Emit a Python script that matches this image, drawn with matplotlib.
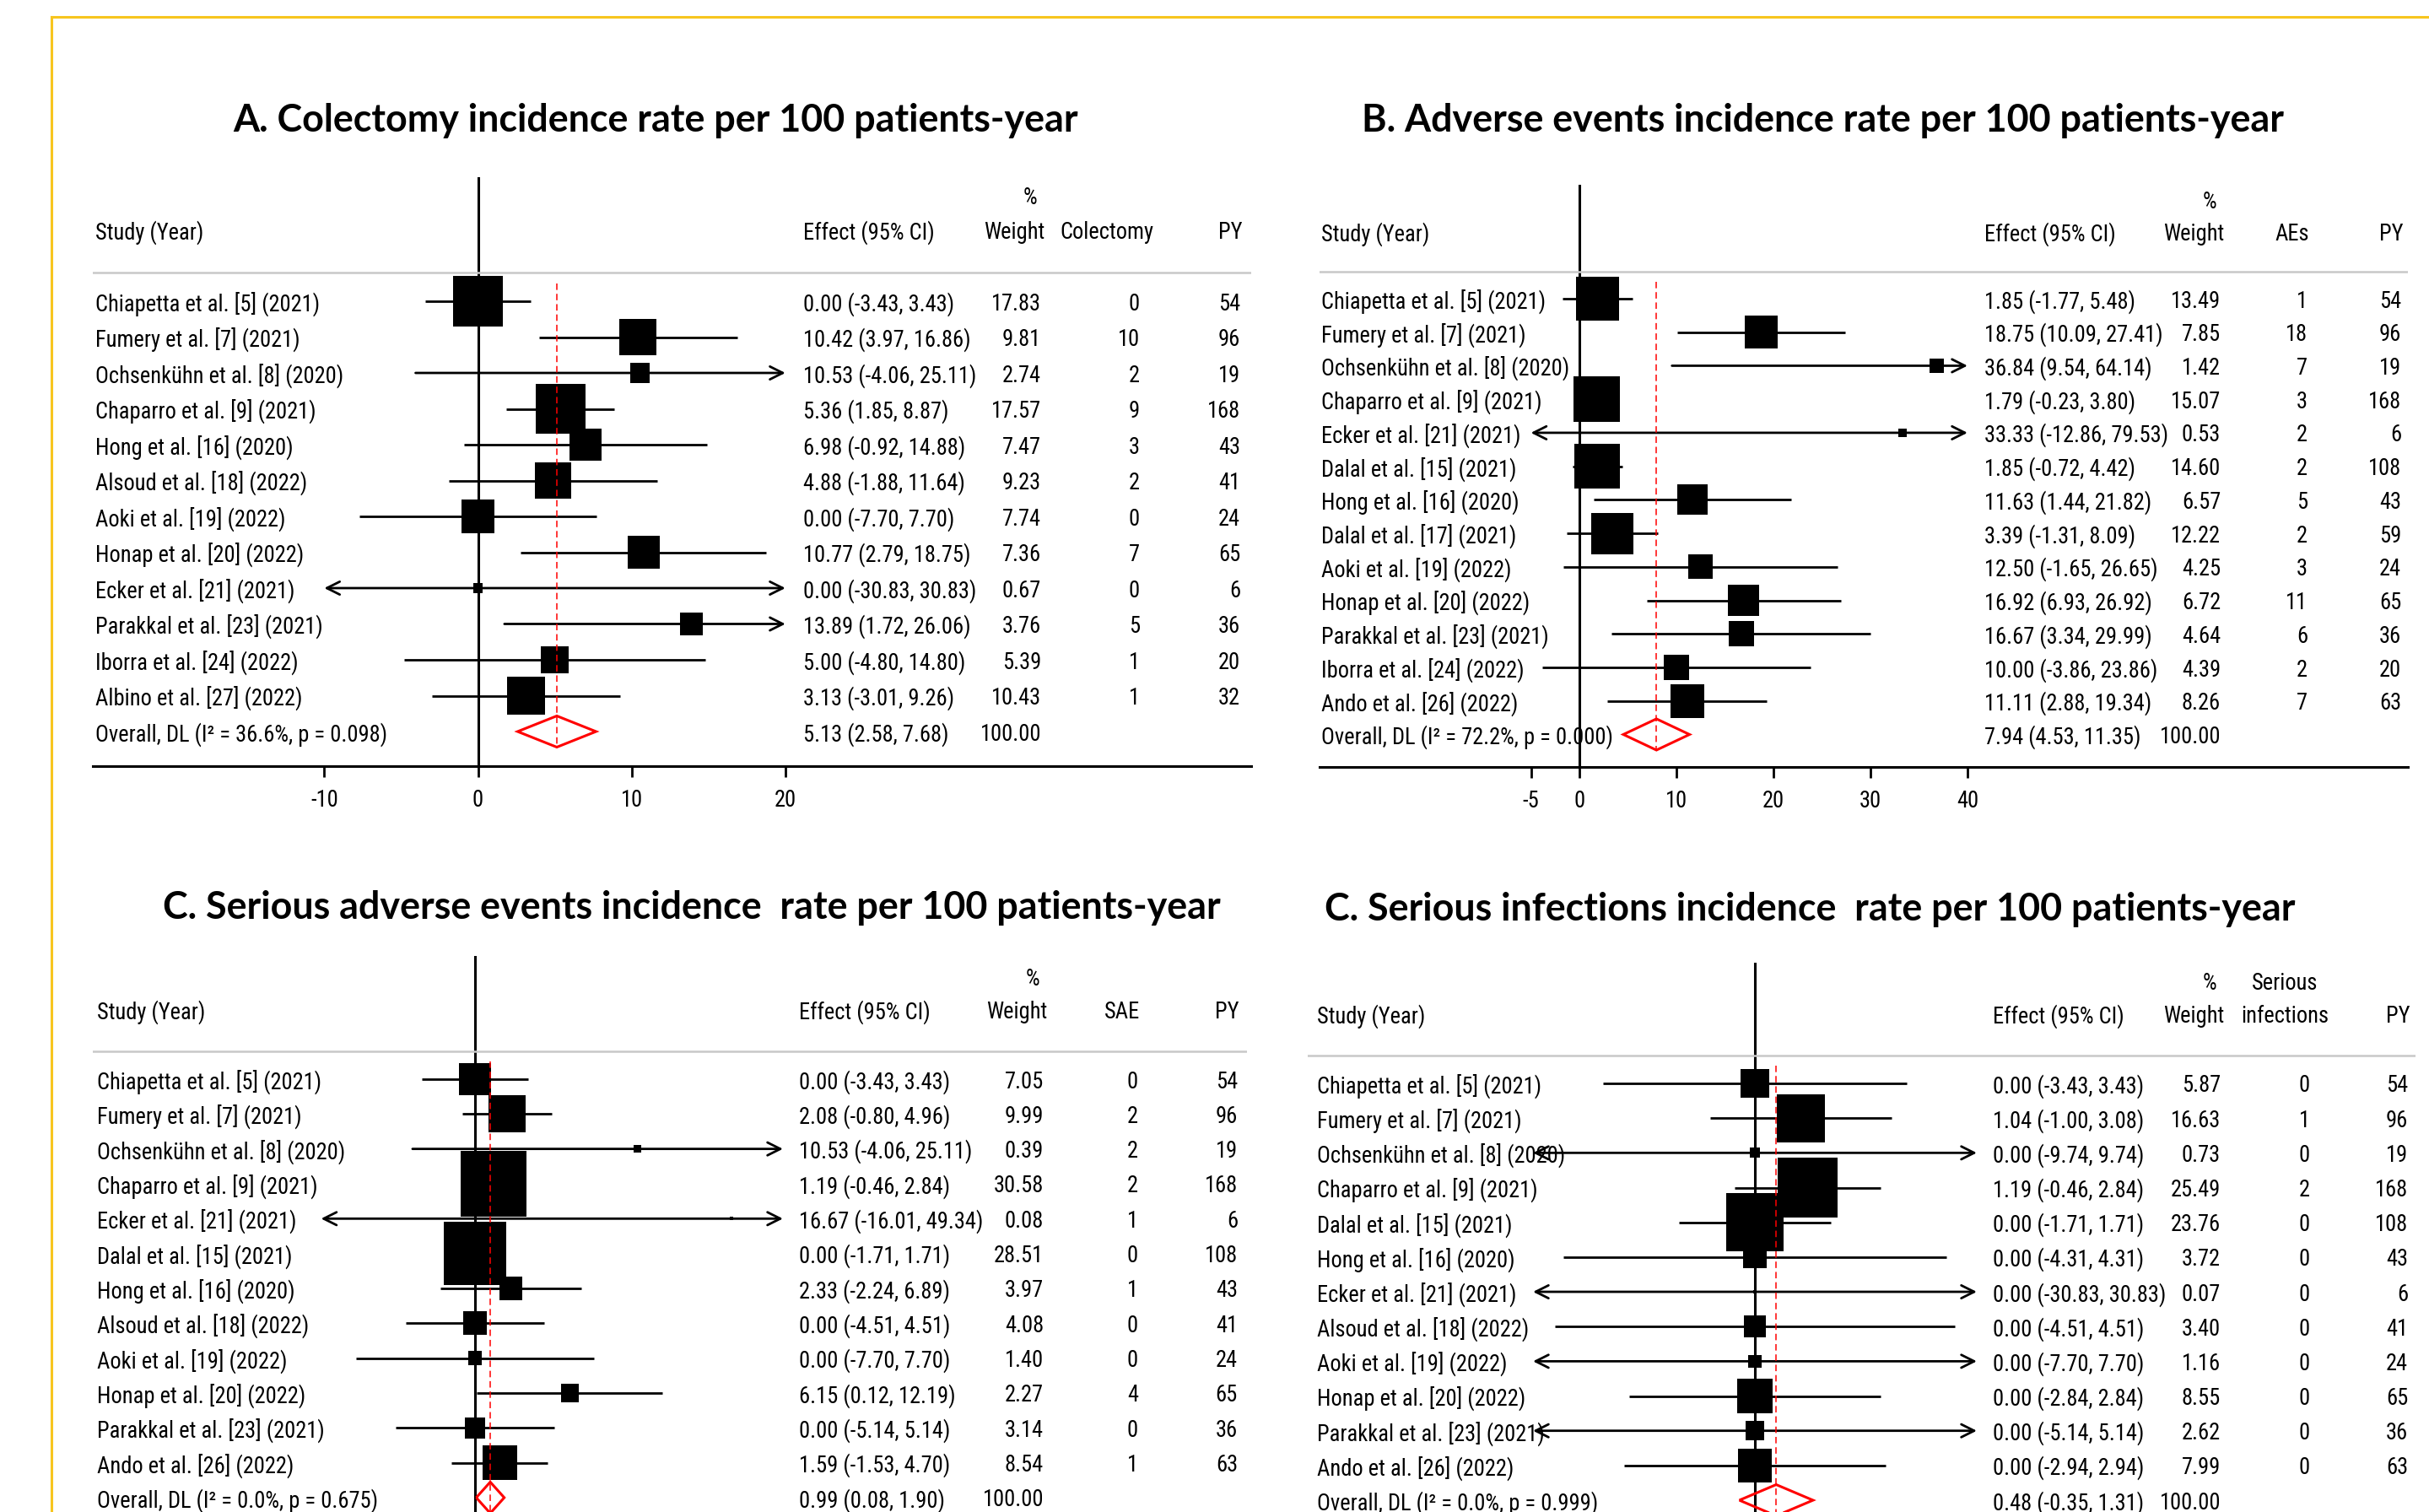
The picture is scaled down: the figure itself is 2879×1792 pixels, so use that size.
import matplotlib
matplotlib.use("Agg")
import matplotlib.pyplot as plt
from matplotlib.lines import Line2D
from matplotlib.patches import Polygon
from matplotlib.transforms import blended_transform_factory
from matplotlib.font_manager import FontProperties
from matplotlib.textpath import TextToPath
import numpy as np

BODY_FONT = ['Roboto Condensed', 'Liberation Sans', 'DejaVu Sans']
TITLE_FONT = ['Lato', 'DejaVu Sans']
plt.rcParams['font.family'] = BODY_FONT
plt.rcParams['axes.unicode_minus'] = False
TITLE_SIZE = 32.3

W, H = 2879, 1792

# A. colectomy
a_study = ['Chiapetta et al. [5] (2021)', 'Fumery et al. [7] (2021)', 'Ochsenkühn et al. [8] (2020)',
           'Chaparro et al. [9] (2021)', 'Hong et al. [16] (2020)', 'Alsoud et al. [18] (2022)',
           'Aoki et al. [19] (2022)', 'Honap et al. [20] (2022)', 'Ecker et al. [21] (2021)',
           'Parakkal et al. [23] (2021)', 'Iborra et al. [24] (2022)', 'Albino et al. [27] (2022)']
a_es = [0.00, 10.42, 10.53, 5.36, 6.98, 4.88, 0.00, 10.77, 0.00, 13.89, 5.00, 3.13]
a_lo = [-3.43, 3.97, -4.06, 1.85, -0.92, -1.88, -7.70, 2.79, -30.83, 1.72, -4.80, -3.01]
a_hi = [3.43, 16.86, 25.11, 8.87, 14.88, 11.64, 7.70, 18.75, 30.83, 26.06, 14.80, 9.26]
a_wt = [17.83, 9.81, 2.74, 17.57, 7.47, 9.23, 7.74, 7.36, 0.67, 3.76, 5.39, 10.43]
a_ev = [0, 10, 2, 9, 3, 2, 0, 7, 0, 5, 1, 1]
a_py = [54, 96, 19, 168, 43, 41, 24, 65, 6, 36, 20, 32]
a_overall = (5.13, 2.58, 7.68)
a_het = 'Overall, DL (I² = 36.6%, p = 0.098)'

# B. adverse events
b_study = ['Chiapetta et al. [5] (2021)', 'Fumery et al. [7] (2021)', 'Ochsenkühn et al. [8] (2020)',
           'Chaparro et al. [9] (2021)', 'Ecker et al. [21] (2021)', 'Dalal et al. [15] (2021)',
           'Hong et al. [16] (2020)', 'Dalal et al. [17] (2021)', 'Aoki et al. [19] (2022)',
           'Honap et al. [20] (2022)', 'Parakkal et al. [23] (2021)', 'Iborra et al. [24] (2022)',
           'Ando et al. [26] (2022)']
b_es = [1.85, 18.75, 36.84, 1.79, 33.33, 1.85, 11.63, 3.39, 12.50, 16.92, 16.67, 10.00, 11.11]
b_lo = [-1.77, 10.09, 9.54, -0.23, -12.86, -0.72, 1.44, -1.31, -1.65, 6.93, 3.34, -3.86, 2.88]
b_hi = [5.48, 27.41, 64.14, 3.80, 79.53, 4.42, 21.82, 8.09, 26.65, 26.92, 29.99, 23.86, 19.34]
b_wt = [13.49, 7.85, 1.42, 15.07, 0.53, 14.60, 6.57, 12.22, 4.25, 6.72, 4.64, 4.39, 8.26]
b_ev = [1, 18, 7, 3, 2, 2, 5, 2, 3, 11, 6, 2, 7]
b_py = [54, 96, 19, 168, 6, 108, 43, 59, 24, 65, 36, 20, 63]
b_overall = (7.94, 4.53, 11.35)
b_het = 'Overall, DL (I² = 72.2%, p = 0.000)'

# C. serious adverse events
c_study = ['Chiapetta et al. [5] (2021)', 'Fumery et al. [7] (2021)', 'Ochsenkühn et al. [8] (2020)',
           'Chaparro et al. [9] (2021)', 'Ecker et al. [21] (2021)', 'Dalal et al. [15] (2021)',
           'Hong et al. [16] (2020)', 'Alsoud et al. [18] (2022)', 'Aoki et al. [19] (2022)',
           'Honap et al. [20] (2022)', 'Parakkal et al. [23] (2021)', 'Ando et al. [26] (2022)']
c_es = [0.00, 2.08, 10.53, 1.19, 16.67, 0.00, 2.33, 0.00, 0.00, 6.15, 0.00, 1.59]
c_lo = [-3.43, -0.80, -4.06, -0.46, -16.01, -1.71, -2.24, -4.51, -7.70, 0.12, -5.14, -1.53]
c_hi = [3.43, 4.96, 25.11, 2.84, 49.34, 1.71, 6.89, 4.51, 7.70, 12.19, 5.14, 4.70]
c_wt = [7.05, 9.99, 0.39, 30.58, 0.08, 28.51, 3.97, 4.08, 1.40, 2.27, 3.14, 8.54]
c_ev = [0, 2, 2, 2, 1, 0, 1, 0, 0, 4, 0, 1]
c_py = [54, 96, 19, 168, 6, 108, 43, 41, 24, 65, 36, 63]
c_overall = (0.99, 0.08, 1.90)
c_het = 'Overall, DL (I² = 0.0%, p = 0.675)'

# D. serious infections
d_study = ['Chiapetta et al. [5] (2021)', 'Fumery et al. [7] (2021)', 'Ochsenkühn et al. [8] (2020)',
           'Chaparro et al. [9] (2021)', 'Dalal et al. [15] (2021)', 'Hong et al. [16] (2020)',
           'Ecker et al. [21] (2021)', 'Alsoud et al. [18] (2022)', 'Aoki et al. [19] (2022)',
           'Honap et al. [20] (2022)', 'Parakkal et al. [23] (2021)', 'Ando et al. [26] (2022)']
d_es = [0.00, 1.04, 0.00, 1.19, 0.00, 0.00, 0.00, 0.00, 0.00, 0.00, 0.00, 0.00]
d_lo = [-3.43, -1.00, -9.74, -0.46, -1.71, -4.31, -30.83, -4.51, -7.70, -2.84, -5.14, -2.94]
d_hi = [3.43, 3.08, 9.74, 2.84, 1.71, 4.31, 30.83, 4.51, 7.70, 2.84, 5.14, 2.94]
d_wt = [5.87, 16.63, 0.73, 25.49, 23.76, 3.72, 0.07, 3.40, 1.16, 8.55, 2.62, 7.99]
d_ev = [0, 1, 0, 2, 0, 0, 0, 0, 0, 0, 0, 0]
d_py = [54, 96, 19, 168, 108, 43, 6, 41, 24, 65, 36, 63]
d_overall = (0.48, -0.35, 1.31)
d_het = 'Overall, DL (I² = 0.0%, p = 0.999)'


# body text size: fit the widest CI string and a study label to their column widths
def text_width(s, size):
    w, _, _ = TextToPath().get_text_width_height_descent(s, FontProperties(family=BODY_FONT, size=size), ismath=False)
    return w


BODY_SIZE = min(100 * 219 * 0.72 / text_width('33.33 (-12.86, 79.53)', 100),
                100 * 281 * 0.72 / text_width('Chiapetta et al. [5] (2021)', 100))

fig = plt.figure(figsize=(W / 100, H / 100), dpi=100)


def forest(lay, title, study, es, lo, hi, wt, ev, py, overall, het, ev_head):
    left, right, top = lay['left'], lay['right'], lay['top']
    zero, ppu, row0, drow = lay['zero'], lay['ppu'], lay['row0'], lay['drow']
    n = len(study)
    bottom = row0 + (n + 0.96) * drow
    ax = fig.add_axes([left / W, 1 - bottom / H, (right - left) / W, (bottom - top) / H])
    ax.patch.set_visible(False)
    ax.set_xlim((left - zero) / ppu, (right - zero) / ppu)
    ax.set_ylim(n + 0.96, (top - row0) / drow)
    tr = blended_transform_factory(ax.transAxes, ax.transData)

    def fx(px):
        return (px - left) / (right - left)

    rows = np.arange(n)
    xmin, xmax = lay['clip']
    for r, l, h in zip(rows, lo, hi):
        lc, hc = max(l, xmin), min(h, xmax)
        style = ('<' if l < xmin else '') + '-' + ('>' if h > xmax else '')
        if style == '-':
            ax.plot([lc, hc], [r, r], color='k', lw=2.0, solid_capstyle='butt', zorder=2)
        else:
            ax.annotate('', xy=(hc, r), xytext=(lc, r), zorder=2,
                        arrowprops=dict(arrowstyle=style + ',head_length=1.1,head_width=0.55',
                                        lw=2.0, color='k', shrinkA=0, shrinkB=0,
                                        mutation_scale=10))
    ax.scatter(es, rows, s=np.array(wt) * 102, marker='s', color='k', linewidths=0, zorder=3)
    ax.axvline(0, color='k', lw=2.2, zorder=2)

    # pooled estimate
    oe, ol, oh = overall
    dh = 18.5 / drow
    ax.vlines(oe, -0.5, n + dh, colors='red', linestyles=(0, (5, 3)), lw=1.1, zorder=4)
    ax.add_patch(Polygon([(ol, n), (oe, n - dh), (oh, n), (oe, n + dh)], closed=True,
                         fill=False, edgecolor='red', lw=2.2, zorder=4))

    ax.axhline(-0.8, color='#c8c8c8', lw=1.8)
    for s in ['top', 'left', 'right']:
        ax.spines[s].set_visible(False)
    ax.spines['bottom'].set_linewidth(2.2)
    ax.set_yticks([])
    ax.set_xticks(lay['ticks'])
    ax.tick_params(axis='x', direction='out', length=9.5, width=2.0, labelsize=BODY_SIZE, pad=10,
                   labelbottom=bottom < H)

    kw = dict(transform=tr, va='center_baseline', fontsize=BODY_SIZE)
    for r in rows:
        ax.text(fx(lay['c_study']), r, study[r], ha='left', **kw)
        ax.text(fx(lay['c_eff']), r, f'{es[r]:.2f} ({lo[r]:.2f}, {hi[r]:.2f})', ha='left', **kw)
        ax.text(fx(lay['c_wt']), r, f'{wt[r]:.2f}', ha='right', **kw)
        ax.text(fx(lay['c_ev']), r, str(ev[r]), ha='right', **kw)
        ax.text(fx(lay['c_py']), r, str(py[r]), ha='right', **kw)
    ax.text(fx(lay['c_study']), n, het, ha='left', **kw)
    ax.text(fx(lay['c_eff']), n, f'{oe:.2f} ({ol:.2f}, {oh:.2f})', ha='left', **kw)
    ax.text(fx(lay['c_wt']), n, '100.00', ha='right', **kw)

    # column headings
    ax.text(fx(lay['c_study']), -2.0, 'Study (Year)', ha='left', **kw)
    ax.text(fx(lay['c_eff']), -2.0, 'Effect (95% CI)', ha='left', **kw)
    ax.text(fx(lay['c_wt'] - 5), -2.95, '%', ha='right', **kw)
    ax.text(fx(lay['c_wt'] + 4), -2.0, 'Weight', ha='right', **kw)
    ax.text(fx(lay['c_py'] + 2), -2.0, 'PY', ha='right', **kw)
    hx, ha = lay['ev_head']
    if len(ev_head) == 2:
        ax.text(fx(hx), -2.95, ev_head[0], ha=ha, **kw)
        ax.text(fx(hx), -2.0, ev_head[1], ha=ha, **kw)
    else:
        ax.text(fx(hx), -2.0, ev_head[0], ha=ha, **kw)

    tx, ty = lay['title']
    fig.text(tx / W, 1 - ty / H, title, ha='center', va='center', fontsize=TITLE_SIZE,
             fontweight='bold', family=TITLE_FONT)
    return ax


lay_a = dict(left=110, right=1483, top=210, zero=566.5, ppu=18.22, row0=357, drow=42.5,
             clip=(-10, 20), ticks=[-10, 0, 10, 20], title=(777, 143),
             c_study=113, c_eff=952, c_wt=1234, c_ev=1351, c_py=1470, ev_head=(1367, 'right'))
lay_b = dict(left=1564, right=2854, top=219, zero=1872, ppu=11.5, row0=354, drow=39.73,
             clip=(-5, 40), ticks=[-5, 0, 10, 20, 30, 40], title=(2161, 143),
             c_study=1566, c_eff=2352, c_wt=2632, c_ev=2735, c_py=2846, ev_head=(2737, 'right'))
lay_c = dict(left=110, right=1478, top=1133, zero=563, ppu=18.25, row0=1279, drow=41.33,
             clip=(-10, 20), ticks=[-10, 0, 10, 20], title=(820, 1076),
             c_study=115, c_eff=947, c_wt=1237, c_ev=1349, c_py=1467, ev_head=(1351, 'right'))
lay_d = dict(left=1550, right=2863, top=1141, zero=2080, ppu=52.6, row0=1284, drow=41.17,
             clip=(-5, 5), ticks=[-5, 0, 5], title=(2145, 1078),
             c_study=1561, c_eff=2362, c_wt=2632, c_ev=2738, c_py=2854, ev_head=(2708, 'center'))

forest(lay_a, 'A. Colectomy incidence rate per 100 patients-year',
       a_study, a_es, a_lo, a_hi, a_wt, a_ev, a_py, a_overall, a_het, ['Colectomy'])
forest(lay_b, 'B. Adverse events incidence rate per 100 patients-year',
       b_study, b_es, b_lo, b_hi, b_wt, b_ev, b_py, b_overall, b_het, ['AEs'])
forest(lay_c, 'C. Serious adverse events incidence  rate per 100 patients-year',
       c_study, c_es, c_lo, c_hi, c_wt, c_ev, c_py, c_overall, c_het, ['SAE'])
forest(lay_d, 'C. Serious infections incidence  rate per 100 patients-year',
       d_study, d_es, d_lo, d_hi, d_wt, d_ev, d_py, d_overall, d_het, ['Serious', 'infections'])

# frame around the figure
fig.add_artist(Line2D([61 / W, 61 / W], [0, 1 - 20 / H], color='#F7C51E', lw=2.2))
fig.add_artist(Line2D([61 / W, 1], [1 - 20 / H, 1 - 20 / H], color='#F7C51E', lw=2.2))

fig.savefig('out.png', dpi=100)
